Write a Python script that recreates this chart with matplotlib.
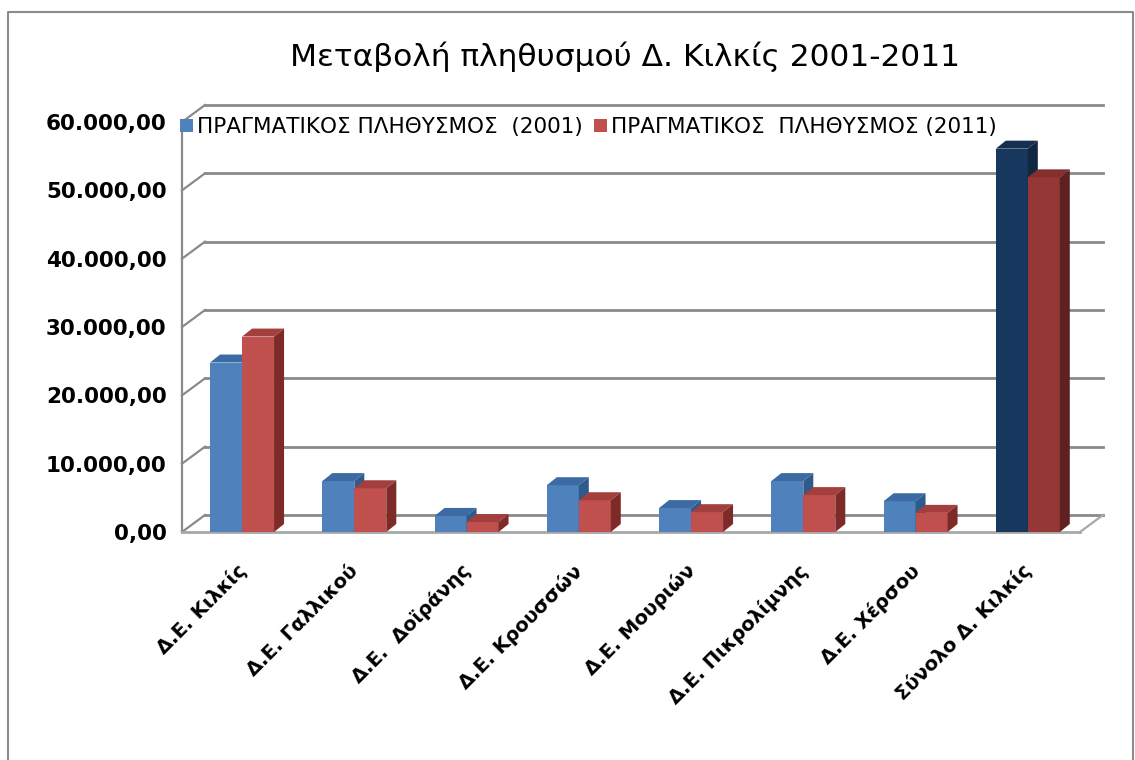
import numpy as np
import matplotlib.pyplot as plt
from matplotlib.patches import Polygon, Patch, Rectangle
from matplotlib.transforms import ScaledTranslation, blended_transform_factory

# data
categories = ['Δ.Ε. Κιλκίς', 'Δ.Ε. Γαλλικού', 'Δ.Ε.  Δοϊράνης', 'Δ.Ε. Κρουσσών',
              'Δ.Ε. Μουριών', 'Δ.Ε. Πικρολίμνης', 'Δ.Ε. Χέρσου', 'Σύνολο Δ. Κιλκίς']
pop_2001 = [24800, 7450, 2350, 6850, 3500, 7450, 4500, 56100]
pop_2011 = [28600, 6400, 1450, 4650, 2900, 5400, 2800, 51900]
yticks = [0, 10000, 20000, 30000, 40000, 50000, 60000]
ytick_labels = ['0,00', '10.000,00', '20.000,00', '30.000,00', '40.000,00', '50.000,00', '60.000,00']
series_names = ['ΠΡΑΓΜΑΤΙΚΟΣ ΠΛΗΘΥΣΜΟΣ  (2001)', 'ΠΡΑΓΜΑΤΙΚΟΣ  ΠΛΗΘΥΣΜΟΣ (2011)']

W, H = 1135, 760
fig = plt.figure(figsize=(W/100, H/100), dpi=100)
fig.patch.set_facecolor('white')

# front plane of the 3d box, in pixels
x_left, x_right = 182, 1080
y_zero, y_top = 532, 122
ax = fig.add_axes([x_left/W, 1 - y_zero/H, (x_right - x_left)/W, (y_zero - y_top)/H])
n = len(categories)
ax.set_xlim(-0.5, n - 0.5)
ax.set_ylim(0, 60000)
for s in ax.spines.values():
    s.set_visible(False)
ax.set_xticks([])
ax.set_yticks(yticks)
ax.set_yticklabels(ytick_labels, fontsize=15.5, fontweight='bold')
ax.tick_params(axis='y', length=0, pad=11)

ppx = (x_right - x_left) / n        # pixels per category
ppy = (y_zero - y_top) / 60000.0    # pixels per person
dxb, dyb = 23 / ppx, 17 / ppy       # depth of back wall
dxs, dys = 10 / ppx, 8 / ppy        # depth of bars

grid_c = '#8a8a8a'
x0, x1 = -0.5, n - 0.5
for v in yticks:
    ax.plot([x0 + dxb, x1 + dxb], [v + dyb, v + dyb], color=grid_c, lw=2, clip_on=False, zorder=1)
    ax.plot([x0, x0 + dxb], [v, v + dyb], color=grid_c, lw=1.6, clip_on=False, zorder=1)
# left axis and floor
ax.plot([x0, x0], [0, 60000], color=grid_c, lw=1.6, clip_on=False, zorder=1)
ax.plot([x0, x1], [0, 0], color='#a8a8a8', lw=2, clip_on=False, zorder=1)
ax.plot([x1, x1 + dxb], [0, dyb], color='#a8a8a8', lw=1.6, clip_on=False, zorder=1)

w = 0.285
shift = 0.035
col_2001 = ['#4F81BD', '#3C6BA3', '#2E5A8C']
col_2011 = ['#C0504D', '#A33F3C', '#7E2A28']
tot_2001 = ['#17375E', '#15304F', '#102641']
tot_2011 = ['#953735', '#86302E', '#5E2120']


def bar3d(xl, h, cols, z):
    xr = xl + w
    ax.add_patch(Rectangle((xl, 0), w, h, facecolor=cols[0], edgecolor='none', zorder=z))
    ax.add_patch(Polygon([(xl, h), (xr, h), (xr + dxs, h + dys), (xl + dxs, h + dys)],
                         closed=True, facecolor=cols[1], edgecolor='none', zorder=z, clip_on=False))
    ax.add_patch(Polygon([(xr, 0), (xr + dxs, dys), (xr + dxs, h + dys), (xr, h)],
                         closed=True, facecolor=cols[2], edgecolor='none', zorder=z, clip_on=False))


for i in range(n):
    c1 = tot_2001 if i == n - 1 else col_2001
    c2 = tot_2011 if i == n - 1 else col_2011
    bar3d(i + shift - w, pop_2001[i], c1, 3 + 2*i)
    bar3d(i + shift, pop_2011[i], c2, 4 + 2*i)

# category labels, rotated
lab_tr = blended_transform_factory(ax.transData, ax.transAxes) + \
    ScaledTranslation(1/100, -36/100, fig.dpi_scale_trans)
for i, lab in enumerate(categories):
    ax.text(i + shift, 0, lab, transform=lab_tr, rotation=45, rotation_mode='anchor',
            ha='right', va='center', fontsize=14, fontweight='bold')

# legend
handles = [Patch(facecolor=col_2001[0]), Patch(facecolor=col_2011[0])]
fig.legend(handles, series_names, loc='center left', bbox_to_anchor=(180/W, 1 - 127/H),
           ncol=2, frameon=False, fontsize=15.5, handlelength=0.6, handleheight=0.6,
           handletextpad=0.2, columnspacing=0.5, borderaxespad=0, borderpad=0)

fig.text(625/W, 1 - 57/H, 'Μεταβολή πληθυσμού Δ. Κιλκίς 2001-2011', ha='center', va='center',
         fontsize=22.5)

# chart border
fig.add_artist(plt.Line2D([8/W, 8/W, 1133/W, 1133/W], [0, 1 - 12/H, 1 - 12/H, 0],
                          transform=fig.transFigure, color='#8c8c8c', lw=1.5))

fig.savefig('out.png', dpi=100)
